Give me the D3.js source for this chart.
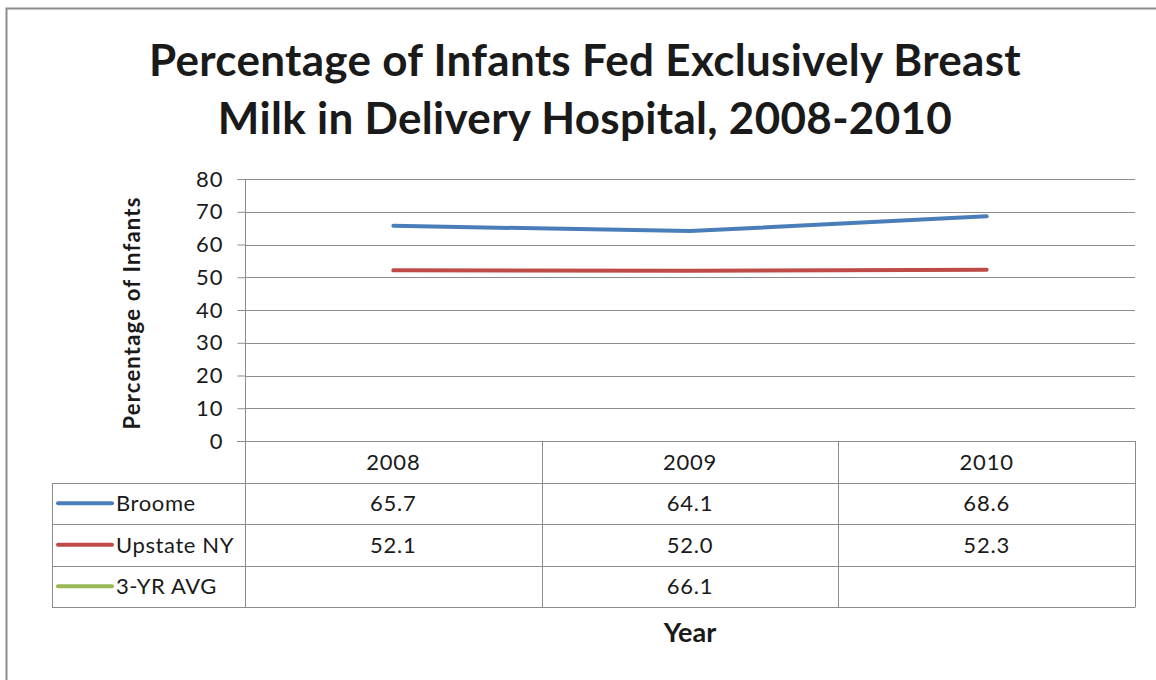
<!DOCTYPE html>
<html>
<head>
<meta charset="utf-8">
<script src="https://cdn.jsdelivr.net/npm/d3@7"></script>
<style>
  body { margin: 0; background: #fff; }
  text { font-family: Lato, "Open Sans", sans-serif; fill: #1a1a1a; }
</style>
</head>
<body>
<script>
"use strict";

var years = ["2008", "2009", "2010"];
var broome = [65.7, 64.1, 68.6];
var upstate = [52.1, 52.0, 52.3];
var avg3yr = [null, 66.1, null];
var yTicks = [0, 10, 20, 30, 40, 50, 60, 70, 80];

var series = [
    { name: "Broome", values: broome, color: "#4a7ebb" },
    { name: "Upstate NY", values: upstate, color: "#be4b48" },
    { name: "3-YR AVG", values: avg3yr, color: "#98b954" }
];

function init() {
    var w = 1156;
    var h = 680;
    var left = 245, right = 1135, top = 179, bottom = 441;
    var tableLeft = 52;
    var rowH = 41.5;

    var svg = d3.select("body")
        .append("svg")
        .attr("width", w)
        .attr("height", h);

    // outer frame
    svg.append("rect")
        .attr("x", 6.5).attr("y", 8.5)
        .attr("width", 1160).attr("height", 700)
        .attr("fill", "none")
        .attr("stroke", "#8c8c8c")
        .attr("stroke-width", 2);

    var xScale = d3.scaleBand()
        .domain(years)
        .range([left, right]);

    var yScale = d3.scaleLinear()
        .domain([0, 80])
        .range([bottom, top]);

    // title
    var title = svg.append("text")
        .attr("text-anchor", "middle")
        .attr("font-weight", "bold")
        .attr("font-size", 44)
        .attr("letter-spacing", 0.3);
    title.append("tspan").attr("x", 585).attr("y", 76)
        .text("Percentage of Infants Fed Exclusively Breast");
    title.append("tspan").attr("x", 585).attr("y", 134)
        .text("Milk in Delivery Hospital, 2008-2010");

    // gridlines
    svg.append("g")
        .selectAll("line")
        .data(yTicks.slice(1))
        .enter()
        .append("line")
        .attr("x1", left).attr("x2", right)
        .attr("y1", function (d) { return Math.round(yScale(d)) + 0.5; })
        .attr("y2", function (d) { return Math.round(yScale(d)) + 0.5; })
        .attr("stroke", "#8c8c8c")
        .attr("stroke-width", 1);

    // y axis
    var yAxis = d3.axisLeft(yScale)
        .tickValues(yTicks)
        .tickSize(8)
        .tickPadding(14);
    var gy = svg.append("g")
        .attr("transform", "translate(" + (left + 0.5) + ",0)")
        .call(yAxis);
    gy.select(".domain").attr("stroke", "#8c8c8c").attr("d", "M-8," + (top + 0.5) + "H0V" + bottom);
    gy.selectAll(".tick line").attr("stroke", "#8c8c8c");
    gy.selectAll(".tick text")
        .attr("font-size", 22)
        .attr("letter-spacing", 1)
        .attr("font-family", "Lato, sans-serif")
        .attr("fill", "#1a1a1a");

    svg.append("text")
        .attr("transform", "translate(140,313) rotate(-90)")
        .attr("text-anchor", "middle")
        .attr("font-weight", "bold")
        .attr("font-size", 22)
        .attr("letter-spacing", 1.2)
        .text("Percentage of Infants");

    // lines
    var line = d3.line()
        .defined(function (d) { return d !== null; })
        .x(function (d, i) { return xScale(years[i]) + xScale.bandwidth() / 2; })
        .y(function (d) { return yScale(d); });

    svg.append("g")
        .selectAll("path")
        .data(series.filter(function (s) {
            return s.values.filter(function (v) { return v !== null; }).length > 1;
        }))
        .enter()
        .append("path")
        .attr("d", function (d) { return line(d.values); })
        .attr("fill", "none")
        .attr("stroke", function (d) { return d.color; })
        .attr("stroke-width", 4)
        .attr("stroke-linecap", "round")
        .attr("stroke-linejoin", "round");

    // data table
    var table = svg.append("g");
    var gridColor = "#8c8c8c";
    var tableBottom = bottom + rowH * 4;

    // x axis line
    table.append("line")
        .attr("x1", left - 8).attr("x2", right)
        .attr("y1", bottom + 0.5).attr("y2", bottom + 0.5)
        .attr("stroke", gridColor);

    // horizontal row lines
    table.selectAll("line.row")
        .data(d3.range(1, 5))
        .enter()
        .append("line")
        .attr("class", "row")
        .attr("x1", tableLeft).attr("x2", right)
        .attr("y1", function (d) { return Math.round(bottom + d * rowH) + 0.5; })
        .attr("y2", function (d) { return Math.round(bottom + d * rowH) + 0.5; })
        .attr("stroke", gridColor);

    // vertical column lines
    var colEdges = years.map(function (y) { return xScale(y); }).concat([right]);
    table.selectAll("line.col")
        .data(colEdges)
        .enter()
        .append("line")
        .attr("class", "col")
        .attr("x1", function (d) { return Math.round(d) + 0.5; })
        .attr("x2", function (d) { return Math.round(d) + 0.5; })
        .attr("y1", bottom).attr("y2", Math.round(tableBottom) + 0.5)
        .attr("stroke", gridColor);

    table.append("line")
        .attr("x1", tableLeft + 0.5).attr("x2", tableLeft + 0.5)
        .attr("y1", Math.round(bottom + rowH) + 0.5).attr("y2", Math.round(tableBottom) + 0.5)
        .attr("stroke", gridColor);

    // header
    table.selectAll("text.year")
        .data(years)
        .enter()
        .append("text")
        .attr("class", "year")
        .attr("x", function (d) { return xScale(d) + xScale.bandwidth() / 2; })
        .attr("y", bottom + rowH / 2 + 8)
        .attr("text-anchor", "middle")
        .attr("font-size", 22)
        .attr("letter-spacing", 0.8)
        .text(function (d) { return d; });

    // rows
    var rows = table.selectAll("g.srow")
        .data(series)
        .enter()
        .append("g")
        .attr("class", "srow")
        .attr("transform", function (d, i) {
            return "translate(0," + (bottom + rowH * (i + 1) + rowH / 2) + ")";
        });

    rows.append("line")
        .attr("x1", 58).attr("x2", 112)
        .attr("y1", 0).attr("y2", 0)
        .attr("stroke", function (d) { return d.color; })
        .attr("stroke-width", 4)
        .attr("stroke-linecap", "round");

    rows.append("text")
        .attr("x", 116)
        .attr("y", 8)
        .attr("font-size", 22)
        .attr("letter-spacing", 0.6)
        .text(function (d) { return d.name; });

    rows.selectAll("text.val")
        .data(function (d) { return d.values; })
        .enter()
        .append("text")
        .attr("class", "val")
        .attr("x", function (d, i) { return xScale(years[i]) + xScale.bandwidth() / 2; })
        .attr("y", 8)
        .attr("text-anchor", "middle")
        .attr("font-size", 22)
        .attr("letter-spacing", 0.8)
        .text(function (d) { return d === null ? "" : d.toFixed(1); });

    // x axis title
    svg.append("text")
        .attr("x", 690)
        .attr("y", 642)
        .attr("text-anchor", "middle")
        .attr("font-weight", "bold")
        .attr("font-size", 27)
        .text("Year");
}

window.onload = init;
</script>
</body>
</html>
